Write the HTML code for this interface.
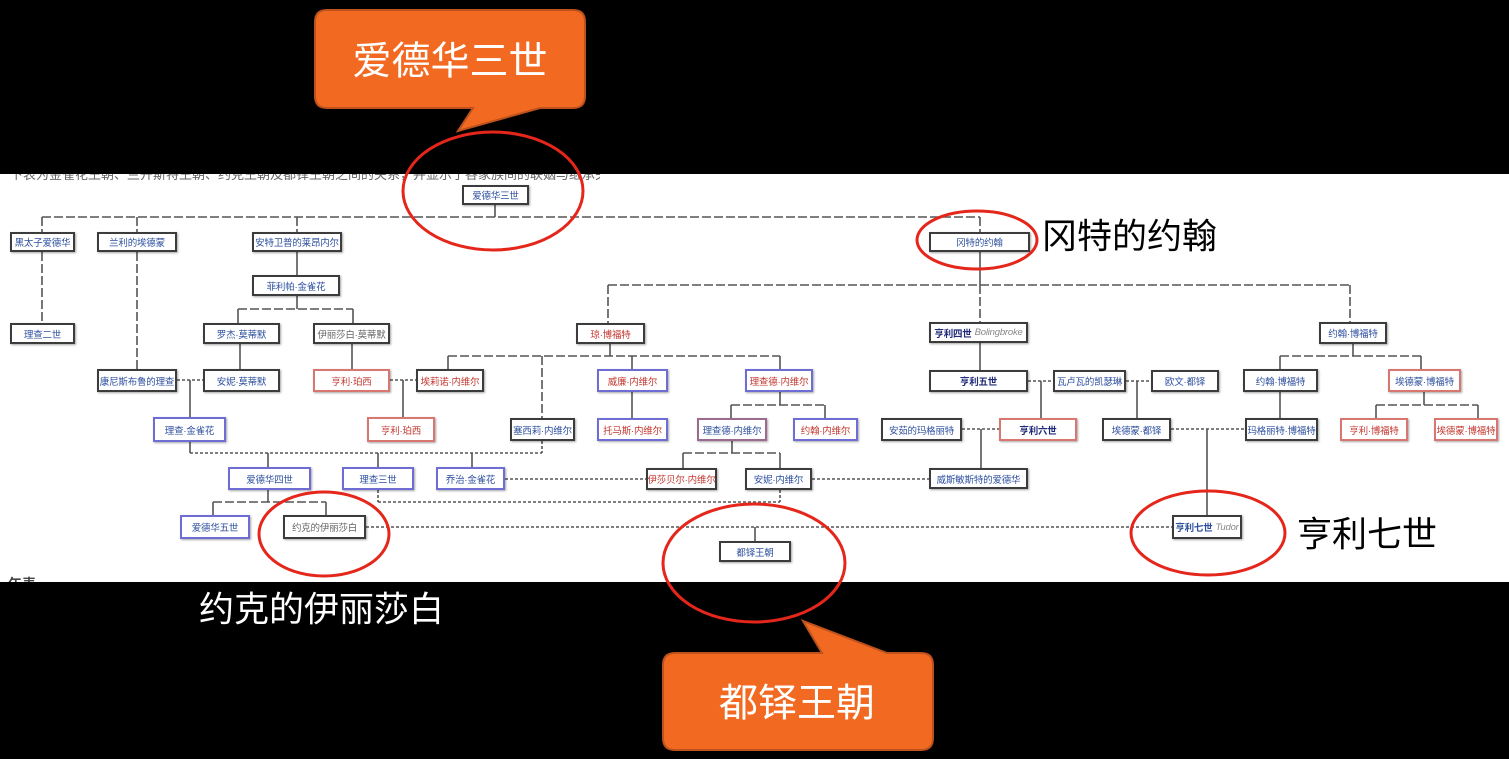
<!DOCTYPE html>
<html><head><meta charset="utf-8">
<style>
html,body{margin:0;padding:0;}
body{width:1509px;height:759px;background:#000;position:relative;overflow:hidden;font-family:"Liberation Sans","Noto Sans CJK SC",sans-serif;}
#band{position:absolute;left:0;top:174px;width:1509px;height:408px;background:#fff;}
.n{position:absolute;box-sizing:border-box;border:2px solid #3c3c3c;background:#fff;display:flex;align-items:center;justify-content:center;font-size:9.5px;white-space:nowrap;overflow:hidden;box-shadow:1px 1px 2px rgba(0,0,0,.35);font-family:"Liberation Sans","Noto Sans CJK SC",sans-serif;letter-spacing:-0.2px;}
.B{color:#2d4f9e}.R{color:#c2372f}.G{color:#666}.D{color:#1f2a78;font-weight:bold}
.kb{border-color:#3c3c3c}.bb{border-color:#6d6dd4}.rb{border-color:#d87670}.mb{border-color:#9c6a8e}
.it{font-style:italic;color:#888;font-weight:normal;margin-left:3px;font-family:"Liberation Sans",sans-serif;}
svg{position:absolute;left:0;top:0;}
.lab{position:absolute;font-family:"Liberation Sans","Noto Sans CJK SC",sans-serif;font-size:35px;line-height:1;white-space:nowrap;}
</style></head><body>
<div id="band"></div>
<div style="position:absolute;left:0;top:174px;width:600px;height:6px;overflow:hidden;">
<div style="position:absolute;left:10px;top:-10px;font-size:13px;color:#666;white-space:nowrap;font-family:'Liberation Sans','Noto Sans CJK SC',sans-serif;">下表为金雀花王朝、兰开斯特王朝、约克王朝及都铎王朝之间的关系，并显示了各家族间的联姻与继承关系图</div>
</div>
<div style="position:absolute;left:0;top:572px;width:60px;height:10px;overflow:hidden;">
<div style="position:absolute;left:8px;top:2px;font-size:14px;color:#444;font-weight:bold;font-family:'Liberation Sans','Noto Sans CJK SC',sans-serif;">年表</div>
</div>

<svg width="1509" height="759" viewBox="0 0 1509 759">
<g stroke="#555" stroke-width="1.6" fill="none">
<!-- solid -->
<g>
<line x1="495" y1="205" x2="495" y2="217"/>
<line x1="297" y1="252" x2="297" y2="275"/>
<line x1="297" y1="296" x2="297" y2="309"/>
<line x1="240" y1="344" x2="240" y2="369"/>
<line x1="352" y1="344" x2="352" y2="369"/>
<line x1="190" y1="380" x2="190" y2="417"/>
<line x1="403" y1="380" x2="403" y2="417"/>
<line x1="980" y1="252" x2="980" y2="285"/>
<line x1="610" y1="344" x2="610" y2="356"/>
<line x1="632" y1="392" x2="632" y2="418"/>
<line x1="780" y1="392" x2="780" y2="405"/>
<line x1="190" y1="442" x2="190" y2="453"/>
<line x1="268" y1="453" x2="268" y2="467"/>
<line x1="378" y1="453" x2="378" y2="467"/>
<line x1="472" y1="453" x2="472" y2="467"/>
<line x1="268" y1="490" x2="268" y2="502"/>
<line x1="732" y1="441" x2="732" y2="453"/>
<line x1="980" y1="343" x2="980" y2="370"/>
<line x1="1041" y1="381" x2="1041" y2="418"/>
<line x1="1137" y1="381" x2="1137" y2="418"/>
<line x1="981" y1="429" x2="981" y2="468"/>
<line x1="1207" y1="429" x2="1207" y2="515"/>
<line x1="755" y1="527" x2="755" y2="541"/>
<line x1="1353" y1="344" x2="1353" y2="356"/>
<line x1="1280" y1="392" x2="1280" y2="418"/>
<line x1="1424" y1="392" x2="1424" y2="405"/>
<line x1="448" y1="356" x2="448" y2="369"/>
<line x1="632" y1="356" x2="632" y2="369"/>
<line x1="780" y1="356" x2="780" y2="369"/>
<line x1="731" y1="405" x2="731" y2="418"/>
<line x1="825" y1="405" x2="825" y2="418"/>
<line x1="683" y1="453" x2="683" y2="468"/>
<line x1="780" y1="453" x2="780" y2="468"/>
<line x1="213" y1="502" x2="213" y2="515"/>
<line x1="326" y1="502" x2="326" y2="515"/>
<line x1="1280" y1="356" x2="1280" y2="369"/>
<line x1="1421" y1="356" x2="1421" y2="369"/>
<line x1="1376" y1="405" x2="1376" y2="418"/>
<line x1="1478" y1="405" x2="1478" y2="418"/>
<line x1="238" y1="309" x2="238" y2="323"/>
<line x1="353" y1="309" x2="353" y2="323"/>
</g>
<!-- dashed -->
<g stroke-dasharray="9 3">
<line x1="42" y1="217" x2="980" y2="217"/>
<line x1="42" y1="217" x2="42" y2="232"/>
<line x1="137" y1="217" x2="137" y2="232"/>
<line x1="297" y1="217" x2="297" y2="232"/>
<line x1="980" y1="217" x2="980" y2="232"/>
<line x1="42" y1="252" x2="42" y2="323"/>
<line x1="137" y1="252" x2="137" y2="369"/>
<line x1="238" y1="309" x2="353" y2="309"/>
<line x1="608" y1="285" x2="1350" y2="285"/>
<line x1="608" y1="285" x2="608" y2="323"/>
<line x1="980" y1="285" x2="980" y2="322"/>
<line x1="1350" y1="285" x2="1350" y2="322"/>
<line x1="448" y1="356" x2="780" y2="356"/>
<line x1="542" y1="356" x2="542" y2="418"/>
<line x1="731" y1="405" x2="825" y2="405"/>
<line x1="683" y1="453" x2="780" y2="453"/>
<line x1="213" y1="502" x2="326" y2="502"/>
<line x1="1280" y1="356" x2="1421" y2="356"/>
<line x1="1376" y1="405" x2="1478" y2="405"/>
</g>
<!-- dotted -->
<g stroke-dasharray="3 2">
<line x1="177" y1="380" x2="203" y2="380"/>
<line x1="390" y1="380" x2="416" y2="380"/>
<line x1="190" y1="453" x2="542" y2="453"/>
<line x1="542" y1="441" x2="542" y2="453"/>
<line x1="378" y1="490" x2="378" y2="502"/>
<line x1="378" y1="502" x2="780" y2="502"/>
<line x1="780" y1="490" x2="780" y2="502"/>
<line x1="505" y1="479" x2="646" y2="479"/>
<line x1="812" y1="479" x2="929" y2="479"/>
<line x1="1028" y1="381" x2="1053" y2="381"/>
<line x1="1126" y1="381" x2="1151" y2="381"/>
<line x1="962" y1="429" x2="999" y2="429"/>
<line x1="1171" y1="429" x2="1245" y2="429"/>
<line x1="366" y1="527" x2="1172" y2="527"/>
</g>
</g>
</svg>

<div class="n B kb" style="left:462px;top:185px;width:67px;height:20px;">爱德华三世</div>
<div class="n B kb" style="left:10px;top:232px;width:65px;height:20px;">黑太子爱德华</div>
<div class="n B kb" style="left:97px;top:232px;width:80px;height:20px;">兰利的埃德蒙</div>
<div class="n B kb" style="left:252px;top:232px;width:90px;height:20px;">安特卫普的莱昂内尔</div>
<div class="n B kb" style="left:929px;top:232px;width:101px;height:20px;">冈特的约翰</div>
<div class="n B kb" style="left:252px;top:275px;width:88px;height:21px;">菲利帕·金雀花</div>
<div class="n B kb" style="left:10px;top:323px;width:65px;height:21px;">理查二世</div>
<div class="n B kb" style="left:203px;top:323px;width:77px;height:21px;">罗杰·莫蒂默</div>
<div class="n G kb" style="left:313px;top:323px;width:77px;height:21px;">伊丽莎白·莫蒂默</div>
<div class="n R kb" style="left:576px;top:323px;width:69px;height:21px;">琼·博福特</div>
<div class="n D kb" style="left:929px;top:322px;width:99px;height:21px;">亨利四世<span class="it">Bolingbroke</span></div>
<div class="n B kb" style="left:1319px;top:322px;width:68px;height:22px;">约翰·博福特</div>
<div class="n B kb" style="left:97px;top:369px;width:80px;height:23px;">康尼斯布鲁的理查</div>
<div class="n B kb" style="left:203px;top:369px;width:77px;height:23px;">安妮·莫蒂默</div>
<div class="n R rb" style="left:313px;top:369px;width:77px;height:23px;">亨利·珀西</div>
<div class="n R kb" style="left:416px;top:369px;width:68px;height:23px;">埃莉诺·内维尔</div>
<div class="n R bb" style="left:597px;top:369px;width:71px;height:23px;">威廉·内维尔</div>
<div class="n R bb" style="left:745px;top:369px;width:68px;height:23px;">理查德·内维尔</div>
<div class="n D kb" style="left:929px;top:370px;width:99px;height:22px;">亨利五世</div>
<div class="n B kb" style="left:1053px;top:370px;width:73px;height:22px;">瓦卢瓦的凯瑟琳</div>
<div class="n B kb" style="left:1151px;top:370px;width:68px;height:22px;">欧文·都铎</div>
<div class="n B kb" style="left:1243px;top:369px;width:75px;height:23px;">约翰·博福特</div>
<div class="n B rb" style="left:1388px;top:369px;width:73px;height:23px;">埃德蒙·博福特</div>
<div class="n B bb" style="left:153px;top:417px;width:73px;height:25px;">理查·金雀花</div>
<div class="n R rb" style="left:367px;top:417px;width:68px;height:25px;">亨利·珀西</div>
<div class="n B kb" style="left:510px;top:418px;width:65px;height:23px;">塞西莉·内维尔</div>
<div class="n R bb" style="left:597px;top:418px;width:71px;height:23px;">托马斯·内维尔</div>
<div class="n B mb" style="left:697px;top:418px;width:70px;height:23px;">理查德·内维尔</div>
<div class="n R bb" style="left:793px;top:418px;width:65px;height:23px;">约翰·内维尔</div>
<div class="n B kb" style="left:881px;top:418px;width:81px;height:23px;">安茹的玛格丽特</div>
<div class="n D rb" style="left:999px;top:418px;width:78px;height:23px;">亨利六世</div>
<div class="n B kb" style="left:1102px;top:418px;width:69px;height:23px;">埃德蒙·都铎</div>
<div class="n B kb" style="left:1245px;top:418px;width:73px;height:23px;">玛格丽特·博福特</div>
<div class="n R rb" style="left:1340px;top:418px;width:68px;height:23px;">亨利·博福特</div>
<div class="n R rb" style="left:1434px;top:418px;width:64px;height:23px;">埃德蒙·博福特</div>
<div class="n B bb" style="left:228px;top:467px;width:83px;height:23px;">爱德华四世</div>
<div class="n B bb" style="left:342px;top:467px;width:72px;height:23px;">理查三世</div>
<div class="n B bb" style="left:436px;top:467px;width:69px;height:23px;">乔治·金雀花</div>
<div class="n R kb" style="left:646px;top:468px;width:71px;height:22px;">伊莎贝尔·内维尔</div>
<div class="n B kb" style="left:745px;top:468px;width:67px;height:22px;">安妮·内维尔</div>
<div class="n B kb" style="left:929px;top:468px;width:99px;height:21px;">威斯敏斯特的爱德华</div>
<div class="n B bb" style="left:180px;top:515px;width:70px;height:24px;">爱德华五世</div>
<div class="n G kb" style="left:283px;top:515px;width:83px;height:24px;">约克的伊丽莎白</div>
<div class="n B kb" style="left:1172px;top:515px;width:70px;height:24px;font-weight:bold;">亨利七世<span class="it">Tudor</span></div>
<div class="n B kb" style="left:719px;top:541px;width:72px;height:21px;">都铎王朝</div>

<svg width="1509" height="759" viewBox="0 0 1509 759">
<g fill="none" stroke="#E4261B" stroke-width="3">
<ellipse cx="493" cy="191" rx="90" ry="59"/>
<ellipse cx="977" cy="240" rx="60" ry="29"/>
<ellipse cx="324" cy="534" rx="65" ry="42"/>
<ellipse cx="754" cy="563" rx="91" ry="59"/>
<ellipse cx="1208" cy="533" rx="77" ry="42"/>
</g>
<path d="M327,10 H573 Q585,10 585,22 V96 Q585,108 573,108 H540 L458,131 L473,108 H327 Q315,108 315,96 V22 Q315,10 327,10 Z" fill="#F26A22" stroke="#BF521C" stroke-width="2"/>
<text x="450" y="62" fill="#fff" font-size="39" text-anchor="middle" dominant-baseline="central" font-family="Liberation Sans, Noto Sans CJK SC, sans-serif">爱德华三世</text>
<path d="M675,653 H822 L803,621 L887,653 H921 Q933,653 933,665 V738 Q933,750 921,750 H675 Q663,750 663,738 V665 Q663,653 675,653 Z" fill="#F26A22" stroke="#BF521C" stroke-width="2"/>
<text x="797" y="704" fill="#fff" font-size="39" text-anchor="middle" dominant-baseline="central" font-family="Liberation Sans, Noto Sans CJK SC, sans-serif">都铎王朝</text>
<text x="1042" y="237" fill="#000" font-size="35" dominant-baseline="central" font-family="Liberation Sans, Noto Sans CJK SC, sans-serif">冈特的约翰</text>
<text x="1297" y="535" fill="#000" font-size="35" dominant-baseline="central" font-family="Liberation Sans, Noto Sans CJK SC, sans-serif">亨利七世</text>
<text x="199" y="610" fill="#fff" font-size="35" dominant-baseline="central" font-family="Liberation Sans, Noto Sans CJK SC, sans-serif">约克的伊丽莎白</text>
</svg>
</body></html>
